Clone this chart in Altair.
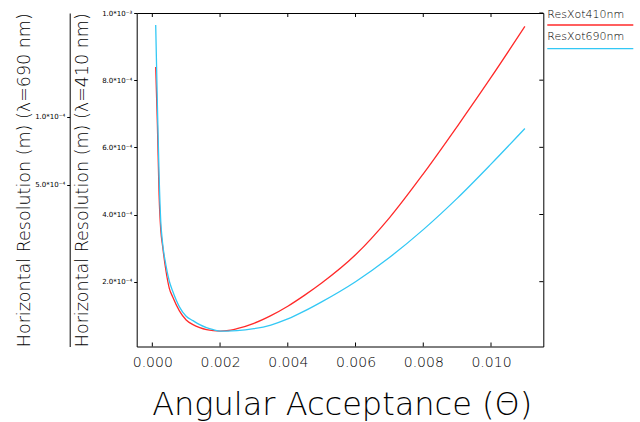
import altair as alt
import pandas as pd

# Angular acceptance (theta) sample points
theta = [0.0001, 0.00015, 0.0002, 0.00025, 0.0003, 0.0004, 0.0005, 0.0006, 0.0008,
         0.001, 0.0012, 0.0014, 0.0016, 0.0018, 0.002, 0.0022, 0.0025, 0.003,
         0.0035, 0.004, 0.0045, 0.005, 0.006, 0.007, 0.008, 0.009, 0.010, 0.011]
# Horizontal resolution, in units of 1e-4 m
res410 = [8.39, 6.67, 4.58, 3.53, 3.09, 2.34, 1.81, 1.55, 1.13, 0.86, 0.72, 0.63,
          0.57, 0.54, 0.53, 0.54, 0.60, 0.76, 0.99, 1.27, 1.60, 1.96, 2.80, 3.90,
          5.21, 6.62, 8.08, 9.60]
res690 = [9.64, 7.26, 5.18, 3.78, 3.18, 2.50, 2.02, 1.72, 1.25, 0.97, 0.84, 0.72,
          0.63, 0.57, 0.53, 0.53, 0.54, 0.60, 0.71, 0.89, 1.13, 1.40, 2.00, 2.72,
          3.55, 4.48, 5.50, 6.56]
series_names = ["ResXot410nm", "ResXot690nm"]
series_colors = ["#ff2a2a", "#33c8f5"]

x_ticks = [0.0, 0.002, 0.004, 0.006, 0.008, 0.010]
y_ticks = [2.0, 4.0, 6.0, 8.0, 10.0]          # inner axis (x1e-4)
outer_ticks = [5.0, 10.0]                       # outer axis (x1e-4)

W, H = 406.6, 333.5
FONT = "DejaVu Sans"
FW = 200
TXT = "#000000"

rows = []
for name, vals in zip(series_names, [res410, res690]):
    for t, v in zip(theta, vals):
        rows.append({"theta": t, "res": v, "series": name})
df = pd.DataFrame(rows)

xscale = alt.Scale(domain=[-0.000461, 0.011544], nice=False, zero=False)
yscale = alt.Scale(domain=[0.07, 10.0], nice=False, zero=False)

ylabel_expr = ("datum.value >= 10 ? '1.0*10⁻³' : format(datum.value, '.1f') + '*10⁻⁴'")

lines = alt.Chart(df).mark_line(strokeWidth=1.3, clip=True, interpolate="monotone").encode(
    x=alt.X("theta:Q", scale=xscale,
            axis=alt.Axis(values=x_ticks, format=".3f", title="Angular Acceptance (Θ)",
                          ticks=False, domain=False, grid=False,
                          labelFont=FONT, labelFontSize=14, labelFontWeight=FW,
                          labelColor=TXT, labelPadding=9,
                          titleFont=FONT, titleFontSize=32, titleFontWeight=FW,
                          titleColor=TXT, titleY=67.5, titleBaseline="alphabetic",
                          titleX=205)),
    y=alt.Y("res:Q", scale=yscale,
            axis=alt.Axis(values=y_ticks, labelExpr=ylabel_expr,
                          title="Horizontal Resolution (m)  (λ=410 nm)",
                          tickSize=3, tickColor=TXT, domain=False, grid=False,
                          labelFont=FONT, labelFontSize=7, labelColor=TXT, labelPadding=2,
                          titleFont=FONT, titleFontSize=17.5, titleFontWeight=FW,
                          titleColor=TXT, titleX=-54, titleY=H / 2,
                          titleBaseline="middle", titleAlign="center")),
    color=alt.Color("series:N", scale=alt.Scale(domain=series_names, range=series_colors),
                    legend=None),
    order=alt.Order("theta:Q"),
)

xt = pd.DataFrame({"t": x_ticks})
yt = pd.DataFrame({"v": y_ticks})
bottom_ticks = alt.Chart(xt).mark_rule(color=TXT, strokeWidth=1).encode(
    x=alt.X("t:Q", scale=xscale), y=alt.value(H), y2=alt.value(H - 4))
top_ticks = alt.Chart(xt).mark_rule(color=TXT, strokeWidth=1).encode(
    x=alt.X("t:Q", scale=xscale), y=alt.value(0), y2=alt.value(4))
right_ticks = alt.Chart(yt).mark_rule(color=TXT, strokeWidth=1).encode(
    y=alt.Y("v:Q", scale=yscale), x=alt.value(W), x2=alt.value(W - 4))

leg1 = pd.DataFrame({"label": [series_names[0]]})
leg2 = pd.DataFrame({"label": [series_names[1]]})
leg_t1 = alt.Chart(leg1).mark_text(align="left", baseline="middle", font=FONT,
                                   fontSize=11, fontWeight=FW, color=TXT).encode(
    text="label:N", x=alt.value(W + 4), y=alt.value(2))
leg_l1 = alt.Chart(leg1).mark_rule(color=series_colors[0], strokeWidth=1.3).encode(
    x=alt.value(W + 4), x2=alt.value(W + 90), y=alt.value(12))
leg_t2 = alt.Chart(leg2).mark_text(align="left", baseline="middle", font=FONT,
                                   fontSize=11, fontWeight=FW, color=TXT).encode(
    text="label:N", x=alt.value(W + 4), y=alt.value(23.5))
leg_l2 = alt.Chart(leg2).mark_rule(color=series_colors[1], strokeWidth=1.3).encode(
    x=alt.value(W + 4), x2=alt.value(W + 90), y=alt.value(35.7))

inner = alt.layer(lines, bottom_ticks, top_ticks, right_ticks,
                  leg_t1, leg_l1, leg_t2, leg_l2)

outer_label_expr = ("datum.value >= 10 ? '1.0*10⁻⁴' : format(datum.value, '.1f') + '*10⁻⁴'")
outer = alt.Chart(pd.DataFrame({"v": outer_ticks})).mark_point(opacity=0).encode(
    y=alt.Y("v:Q", scale=alt.Scale(type="log", domain=[0.96, 28.8], nice=False),
            axis=alt.Axis(orient="left", offset=67, values=outer_ticks,
                          labelExpr=outer_label_expr,
                          title="Horizontal Resolution (m)  (λ=690 nm)",
                          tickSize=3, tickColor=TXT, domainColor=TXT, grid=False,
                          labelFont=FONT, labelFontSize=7, labelColor=TXT, labelPadding=2,
                          titleFont=FONT, titleFontSize=17.5, titleFontWeight=FW,
                          titleColor=TXT, titleX=-45, titleY=H / 2,
                          titleBaseline="middle", titleAlign="center")),
)

chart = alt.layer(inner, outer).resolve_scale(y="independent").properties(
    width=W, height=H,
    autosize=alt.AutoSizeParams(type="none"),
    padding={"left": 136.7, "top": 13, "right": 640 - 543.3, "bottom": 422 - 346.5},
).configure_view(stroke="black", strokeWidth=1)

chart.save("out.html", embed_options={"renderer": "svg", "actions": False})
